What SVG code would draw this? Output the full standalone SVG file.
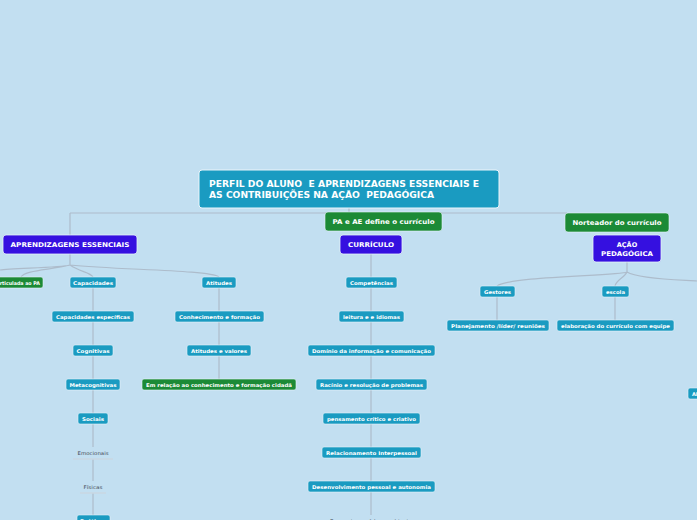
<svg xmlns="http://www.w3.org/2000/svg" width="697" height="520" viewBox="0 0 697 520">
<style>
.bg{fill:#c2dff1}
.ln{fill:none;stroke:#adbccb;stroke-width:1.2}
.t{fill:#1a9bc1;stroke:#e6f3fa;stroke-width:0.6}
.g{fill:#1c8a36;stroke:#e6f3fa;stroke-width:0.6}
.p{fill:#3510e0;stroke:#e6f3fa;stroke-width:0.8}
.s{font-family:"DejaVu Sans",Verdana,sans-serif;font-weight:bold;font-size:5px;fill:#ffffff;text-anchor:middle}
.m{font-family:"DejaVu Sans",Verdana,sans-serif;font-weight:bold;font-size:6.5px;fill:#ffffff;text-anchor:middle}
.h{font-family:"DejaVu Sans",Verdana,sans-serif;font-weight:bold;font-size:8px;fill:#ffffff;white-space:pre}
.pl{font-family:"DejaVu Sans",Verdana,sans-serif;font-size:5px;fill:#444c55;text-anchor:middle}
.ul{stroke:#c9d7e2;stroke-width:1.5}
</style>
<rect class="bg" x="0" y="0" width="697" height="520"/>
<g id="connectors">
<path class="ln" d="M349 208V213M70 213H567M70 213V235"/>
<path class="ln" d="M70 254V265C60 268 10 268 0 270M70 265C50 270 25 270 21 277M70 265C80 272 90 272 93 277M70 265C120 270 210 270 219 277"/>
<path class="ln" d="M93 288V515"/>
<path class="ln" d="M219 288V379"/>
<path class="ln" d="M371 254V520"/>
<path class="ln" d="M627 262V272C620 276 510 276 497 286M627 272C625 277 616 280 615 286M627 272C640 280 690 280 697 281"/>
<path class="ln" d="M497 297V320M615 297V320"/>
</g>
<g id="title"><rect x="199" y="170" width="300" height="38" rx="3" fill="#1a9bc1" stroke="#eaf5fb" stroke-width="1"/>
<text class="h" x="209" y="187" textLength="270" lengthAdjust="spacingAndGlyphs">PERFIL DO ALUNO  E APRENDIZAGENS ESSENCIAIS E</text>
<text class="h" x="209" y="198" textLength="225" lengthAdjust="spacingAndGlyphs">AS CONTRIBUIÇÕES NA AÇÃO  PEDAGÓGICA</text></g>
<g id="pa-ae"><rect class="g" x="325" y="212" width="117" height="19" rx="3"/><text class="m" x="383.5" y="224" textLength="102" lengthAdjust="spacingAndGlyphs">PA e AE define o currículo</text></g>
<g id="norteador"><rect class="g" x="565" y="213" width="104" height="19" rx="3"/><text class="m" x="617" y="225" textLength="89" lengthAdjust="spacingAndGlyphs">Norteador do currículo</text></g>
<g id="aprendizagens"><rect class="p" x="3" y="235" width="134" height="19" rx="3"/><text class="m" x="70" y="247" textLength="119" lengthAdjust="spacingAndGlyphs">APRENDIZAGENS ESSENCIAIS</text></g>
<g id="curriculo"><rect class="p" x="340" y="235" width="62" height="19" rx="3"/><text class="m" x="371" y="247" textLength="46" lengthAdjust="spacingAndGlyphs">CURRÍCULO</text></g>
<g id="acao"><rect class="p" x="593" y="235" width="68" height="27" rx="3"/><text class="m" x="627" y="246.5">AÇÃO</text><text class="m" x="627" y="255.5" textLength="52" lengthAdjust="spacingAndGlyphs">PEDAGÓGICA</text></g>
<g id="articulada"><rect class="g" x="-10" y="277" width="53" height="11" rx="2"/><text class="s" x="18" y="284.5" textLength="44" lengthAdjust="spacingAndGlyphs">Articulada ao PA</text></g>
<g id="capacidades"><rect class="t" x="70" y="277" width="46" height="11" rx="2"/><text class="s" x="93" y="284.5" textLength="40" lengthAdjust="spacingAndGlyphs">Capacidades</text></g>
<g id="cap-esp"><rect class="t" x="52" y="311" width="82" height="11" rx="2"/><text class="s" x="93" y="318.5" textLength="74" lengthAdjust="spacingAndGlyphs">Capacidades específicas</text></g>
<g id="cognitivas"><rect class="t" x="73" y="345" width="40" height="11" rx="2"/><text class="s" x="93" y="352.5" textLength="33" lengthAdjust="spacingAndGlyphs">Cognitivas</text></g>
<g id="metacognitivas"><rect class="t" x="66" y="379" width="54" height="11" rx="2"/><text class="s" x="93" y="386.5" textLength="47" lengthAdjust="spacingAndGlyphs">Metacognitivas</text></g>
<g id="sociais"><rect class="t" x="78" y="413" width="30" height="11" rx="2"/><text class="s" x="93" y="420.5" textLength="22" lengthAdjust="spacingAndGlyphs">Sociais</text></g>
<g id="emocionais"><rect x="80" y="447" width="26" height="12" class="bg"/><text class="pl" x="93" y="455" textLength="31" lengthAdjust="spacingAndGlyphs">Emocionais</text><line class="ul" x1="73" y1="459" x2="113" y2="459"/></g>
<g id="fisicas"><rect x="83" y="481" width="20" height="12" class="bg"/><text class="pl" x="93" y="489" textLength="19" lengthAdjust="spacingAndGlyphs">Físicas</text><line class="ul" x1="80" y1="493" x2="106" y2="493"/></g>
<g id="praticas"><rect class="t" x="77" y="515" width="33" height="11" rx="2"/><text class="s" x="93.5" y="522.5" textLength="27" lengthAdjust="spacingAndGlyphs">Práticas</text></g>
<g id="atitudes"><rect class="t" x="202" y="277" width="34" height="11" rx="2"/><text class="s" x="219" y="284.5" textLength="26" lengthAdjust="spacingAndGlyphs">Atitudes</text></g>
<g id="conhecimento"><rect class="t" x="175" y="311" width="89" height="11" rx="2"/><text class="s" x="219.5" y="318.5" textLength="81" lengthAdjust="spacingAndGlyphs">Conhecimento e formação</text></g>
<g id="atitudes-valores"><rect class="t" x="187" y="345" width="64" height="11" rx="2"/><text class="s" x="219" y="352.5" textLength="56" lengthAdjust="spacingAndGlyphs">Atitudes e valores</text></g>
<g id="em-relacao"><rect class="g" x="142" y="379" width="154" height="11" rx="2"/><text class="s" x="219" y="386.5" textLength="146" lengthAdjust="spacingAndGlyphs">Em relação ao conhecimento e formação cidadã</text></g>
<g id="competencias"><rect class="t" x="346" y="277" width="51" height="11" rx="2"/><text class="s" x="371.5" y="284.5" textLength="43" lengthAdjust="spacingAndGlyphs">Competências</text></g>
<g id="leitura"><rect class="t" x="339" y="311" width="65" height="11" rx="2"/><text class="s" x="371.5" y="318.5" textLength="57" lengthAdjust="spacingAndGlyphs">leitura e e idiomas</text></g>
<g id="dominio"><rect class="t" x="308" y="345" width="127" height="11" rx="2"/><text class="s" x="371.5" y="352.5" textLength="119" lengthAdjust="spacingAndGlyphs">Domínio da informação e comunicação</text></g>
<g id="racinio"><rect class="t" x="316" y="379" width="111" height="11" rx="2"/><text class="s" x="371.5" y="386.5" textLength="103" lengthAdjust="spacingAndGlyphs">Racínio e resolução de problemas</text></g>
<g id="pensamento"><rect class="t" x="323" y="413" width="97" height="11" rx="2"/><text class="s" x="371.5" y="420.5" textLength="89" lengthAdjust="spacingAndGlyphs">pensamento crítico e criativo</text></g>
<g id="relacionamento"><rect class="t" x="322" y="447" width="99" height="11" rx="2"/><text class="s" x="371.5" y="454.5" textLength="91" lengthAdjust="spacingAndGlyphs">Relacionamento Interpessoal</text></g>
<g id="desenvolvimento"><rect class="t" x="308" y="481" width="127" height="11" rx="2"/><text class="s" x="371.5" y="488.5" textLength="119" lengthAdjust="spacingAndGlyphs">Desenvolvimento pessoal e autonomia</text></g>
<g id="bem-estar"><rect x="328" y="515" width="86" height="6" class="bg"/><text class="pl" x="371" y="523" textLength="82" lengthAdjust="spacingAndGlyphs">Bem-estar, saúde e ambiente</text></g>
<g id="gestores"><rect class="t" x="480" y="286" width="35" height="11" rx="2"/><text class="s" x="497.5" y="293.5" textLength="27" lengthAdjust="spacingAndGlyphs">Gestores</text></g>
<g id="escola"><rect class="t" x="602" y="286" width="27" height="11" rx="2"/><text class="s" x="615.5" y="293.5" textLength="19" lengthAdjust="spacingAndGlyphs">escola</text></g>
<g id="planejamento"><rect class="t" x="447" y="320" width="102" height="11" rx="2"/><text class="s" x="498" y="327.5" textLength="94" lengthAdjust="spacingAndGlyphs">Planejamento /líder/ reuniões</text></g>
<g id="elaboracao"><rect class="t" x="557" y="320" width="117" height="11" rx="2"/><text class="s" x="615.5" y="327.5" textLength="109" lengthAdjust="spacingAndGlyphs">elaboração do currículo com equipe</text></g>
<g id="alunos"><rect class="t" x="688" y="388" width="30" height="11" rx="2"/><text class="s" x="692" y="395.5" style="text-anchor:start">Alunos</text></g>
</svg>
